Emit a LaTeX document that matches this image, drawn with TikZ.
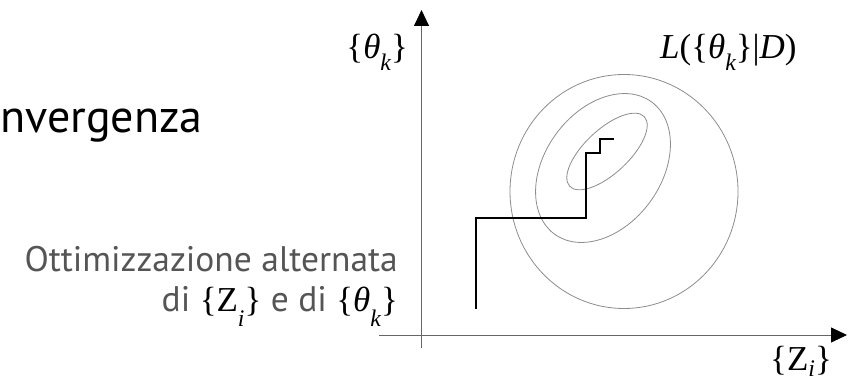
\documentclass[tikz,border=0pt]{standalone}
\usepackage{amsmath}
\usepackage{fontspec}
\setmainfont{Liberation Serif}
\newfontfamily\slidesans{PT Sans}
\usetikzlibrary{arrows.meta,positioning}

\definecolor{axisgray}{HTML}{666666}
\definecolor{contourgray}{HTML}{8C8C8C}
\definecolor{textgray}{HTML}{555555}

\newcommand{\labfont}{\rmfamily\fontsize{35}{40}\selectfont}
\newcommand{\lowsub}[2][0.33em]{\raisebox{-#1}{\scalebox{0.68}{\itshape #2}}}
\newcommand{\setth}[1][0.33em]{\{\textit{θ}\lowsub[#1]{k}\}}
\newcommand{\setz}[1][0.33em]{\{Z\lowsub[#1]{i}\}}

\begin{document}
\begin{tikzpicture}[
    x=1pt, y=1pt,
    axis/.style={draw=axisgray, line width=0.8pt, -{Triangle[width=15pt,length=16pt,color=black]}},
    contour/.style={draw=contourgray, line width=0.8pt},
    walk/.style={draw=black, line width=1.2pt},
    mathlabel/.style={inner sep=0pt, font=\labfont},
    sanslabel/.style={inner sep=0pt, font=\slidesans\fontsize{35.5}{36}\selectfont}
]
    \useasboundingbox (0,0) rectangle (850,385);

    % 1. Axes
    \coordinate (ybot) at (421.5,37);
    \coordinate (ytop) at (421.5,375);
    \coordinate (xleft) at (379,50);
    \coordinate (xright) at (847,50);
    \draw[axis] (ybot) -- (ytop);
    \draw[axis] (xleft) -- (xright);

    % 2. Contours of the likelihood
    \draw[contour] (624,193.5) ellipse [x radius=114, y radius=117];
    \draw[contour, rotate around={53.6:(603,217)}] (603,217) ellipse [x radius=82, y radius=58];
    \draw[contour, rotate around={43:(607,233.5)}] (607,233.5) ellipse [x radius=51, y radius=22];

    % 3. Alternating optimisation path
    \draw[walk] (476,76) |- (586,167) |- (600,232) |- (614,246);

    % 4. Labels
    \node[mathlabel, anchor=base east] (thetalabel) at (408,326) {\setth};
    \node[mathlabel, anchor=base west] (likelabel) at (660,326) {\textit{L}(\setth|\textit{D})};
    \node[mathlabel, anchor=base east] (zlabel) at (832,14) {\setz[0.15em]};
    \node[sanslabel, font=\slidesans\fontsize{46}{46}\selectfont, anchor=base west] (convlabel) at (0,252) {nvergenza};
    \node[sanslabel, text=textgray, anchor=base east] (optline) at (398,113) {Ottimizzazione alternata};
    \node[sanslabel, text=textgray, anchor=base east] (optsets) at (398,73)
        {di {\labfont\color{black}\setz[0.42em]} e di {\labfont\color{black}\setth[0.42em]}};

\end{tikzpicture}
\end{document}
